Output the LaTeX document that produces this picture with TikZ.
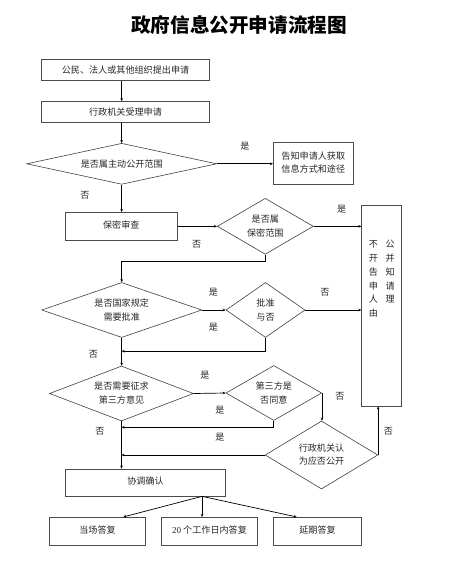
\documentclass[tikz,border=0pt]{standalone}
\usepackage{fontspec}
\setmainfont{Noto Sans CJK SC}
\newfontfamily\latser{Liberation Serif}
\usetikzlibrary{shapes.geometric,arrows.meta,calc}
\begin{document}
\begin{tikzpicture}[x=1pt,y=-1pt,
  every node/.style={font=\fontsize{9.1}{14}\selectfont, text=black!85},
  box/.style={draw=black!70, line width=0.7pt, rectangle, inner sep=0pt, align=center},
  dia/.style={draw=black!75, line width=0.6pt, diamond, inner sep=0pt, align=center},
  lab/.style={inner sep=0pt},
  con/.style={line width=0.7pt, black},
  arr/.style={con, -{Stealth[length=3pt,width=2.6pt]}}]
\path[use as bounding box] (0,0) rectangle (458,569);

\node[inner sep=0pt, font=\fontsize{19.6}{22}\selectfont\bfseries, text=black] (title) at (239,25) {政府信息公开申请流程图};

\node[box, minimum width=168pt, minimum height=21pt] (b1) at (125.5,70) {公民、法人或其他组织提出申请};
\node[box, minimum width=168pt, minimum height=21pt] (b2) at (125.5,112) {行政机关受理申请};
\node[dia, minimum width=190pt, minimum height=41pt, shape aspect=4.63] (d1) at (121.7,163.8) {是否属主动公开范围};
\node[box, minimum width=80pt, minimum height=41.6pt] (b3) at (313.3,163.5) {\raisebox{2.5pt}{\shortstack{告知申请人获取\\[1.5pt]信息方式和途径}}};
\node[box, minimum width=112pt, minimum height=27.7pt] (b4) at (121.3,226.2) {\raisebox{2.5pt}{保密审查}};
\node[dia, minimum width=96pt, minimum height=56pt, shape aspect=1.71] (d2) at (265.3,226.3) {是否属\\保密范围};
\node[box, minimum width=40pt, minimum height=200.7pt] (tb) at (381.7,305.7) {};
\node[inner sep=0pt, align=center] (tbt) at (381.7,279.5) {\fontsize{9.1}{13.8}\selectfont\begin{tabular}{@{}c@{\hspace{7.6pt}}c@{}}不&公\\开&并\\告&知\\申&请\\人&理\\由&\end{tabular}};
\node[dia, minimum width=160pt, minimum height=55pt, shape aspect=2.91] (d3) at (121.7,310) {是否国家规定\\需要批准};
\node[dia, minimum width=79pt, minimum height=55pt, shape aspect=1.44] (d4) at (265.5,310) {批准\\与否};
\node[dia, minimum width=144pt, minimum height=55pt, shape aspect=2.62] (d5) at (121.5,393.5) {是否需要征求\\第三方意见};
\node[dia, minimum width=95.7pt, minimum height=55pt, shape aspect=1.74] (d6) at (273.8,393) {第三方是\\否同意};
\node[dia, minimum width=112.7pt, minimum height=68pt, shape aspect=1.66] (d7) at (321.5,455) {\raisebox{2pt}{\shortstack{行政机关认\\[1.5pt]为应否公开}}};
\node[box, minimum width=160.4pt, minimum height=27pt] (b5) at (145.5,482.5) {\raisebox{3pt}{协调确认}};
\node[box, minimum width=96.4pt, minimum height=28pt] (bA) at (97.5,531.3) {\raisebox{3pt}{当场答复}};
\node[box, minimum width=95.6pt, minimum height=28pt] (bB) at (209.5,531.3) {\raisebox{3pt}{{\latser 20} 个工作日内答复}};
\node[box, minimum width=88.4pt, minimum height=28pt] (bC) at (317.5,531.3) {\raisebox{3pt}{延期答复}};

% labels
\node[lab] (l1) at (245,146) {是};
\node[lab] (l2) at (85,195) {否};
\node[lab] (l3) at (341.7,209) {是};
\node[lab] (l4) at (196.7,244) {否};
\node[lab] (l5) at (213.3,292.7) {是};
\node[lab] (l6) at (213.3,327.7) {是};
\node[lab] (l7) at (325,292.7) {否};
\node[lab] (l8) at (93.3,354.3) {否};
\node[lab] (l9) at (205,375) {是};
\node[lab] (l10) at (220,410) {是};
\node[lab] (l11) at (340,396.7) {否};
\node[lab] (l12) at (220,437.3) {是};
\node[lab] (l13) at (388.3,431.7) {否};
\node[lab] (l14) at (100,431.7) {否};

% junctions
\coordinate (j0) at ($(d2.south)+(0,7)$);
\coordinate (j1) at ($(d4.south)+(0,13.4)$);
\coordinate (j2) at ($(d6.south)+(0,6.5)$);
\coordinate (s5) at ($(b5.south east)+(-24,0)$);

% connectors
\draw[arr] (b1.south -| d1.north) -- (b2.north -| d1.north);
\draw[arr] (b2.south -| d1.north) -- (d1.north);
\draw[arr] (d1.east) -- (d1.east -| b3.west);
\draw[arr] (d1.south) -- (b4.north -| d1.south);
\draw[arr] (b4.east |- d2.west) -- (d2.west);
\draw[arr] (d2.east) -- (d2.east -| tb.west);
\draw[arr] (d2.south) -- (j0) -| (d3.north);
\draw[arr] (d3.east) -- (d4.west);
\draw[arr] (d4.east) -- (d4.east -| tb.west);
\draw[arr] (d4.south) -- (j1) -- (j1 -| d3.south);
\draw[arr] (d3.south) -- (d5.north -| d3.south);
\draw[arr] (d5.east) -- (d6.west);
\draw[arr] (d6.south) -- (j2) -- (j2 -| d5.south);
\draw[arr] (d6.east) -- (d6.east |- d7.north);
\draw[arr] (d7.west) -- (d7.west -| d5.south);
\draw[arr] (d7.east) -- (d7.east |- tb.south);
\draw[arr] (d5.south) -- (b5.north -| d5.south);
\draw[arr] (s5) -- ($(bA.north)+(25.8,0)$);
\draw[arr] (s5) -- (s5 |- bB.north);
\draw[arr] (s5) -- ($(bC.north)+(-20.8,0)$);
\end{tikzpicture}
\end{document}
